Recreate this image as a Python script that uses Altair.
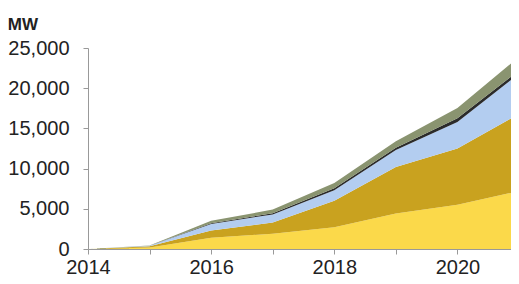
import altair as alt
import pandas as pd

years = [2014, 2015, 2016, 2017, 2018, 2019, 2020, 2021]
tick_years = [2014, 2015, 2016, 2017, 2018, 2019, 2020]
series = ["Layer A", "Layer B", "Layer C", "Layer D", "Layer E"]
colors = ["#FBD94A", "#C9A21F", "#B3CDF0", "#2B2B2B", "#8A9470"]
layer_a = [0, 200, 1400, 1900, 2700, 4400, 5500, 7200]
layer_b = [0, 150, 900, 1400, 3300, 5800, 7000, 9600]
layer_c = [0, 50, 800, 1000, 1300, 2100, 3300, 5000]
layer_d = [0, 10, 100, 150, 250, 300, 450, 400]
layer_e = [0, 40, 300, 450, 650, 800, 1300, 1700]

rows = []
for k, (name, vals) in enumerate(zip(series, [layer_a, layer_b, layer_c, layer_d, layer_e])):
    for y, v in zip(years, vals):
        rows.append({"year": y, "series": name, "mw": v, "k": k})
df = pd.DataFrame(rows)

chart = alt.Chart(df).mark_area(interpolate="linear", clip=True).encode(
    x=alt.X("year:Q",
            scale=alt.Scale(domain=[2014, 2020.87], nice=False, zero=False),
            axis=alt.Axis(values=tick_years, format="d", title=None,
                          labelExpr="datum.value % 2 == 0 ? datum.label : ''",
                          labelFlush=False, labelOverlap=False,
                          grid=False, tickSize=5, labelPadding=3,
                          labelFontSize=20, labelColor="#222222",
                          domainColor="#999999", tickColor="#999999",
                          labelFont="Liberation Sans")),
    y=alt.Y("mw:Q", stack="zero",
            scale=alt.Scale(domain=[0, 25000], nice=False),
            axis=alt.Axis(values=[0, 5000, 10000, 15000, 20000, 25000], format=",.0f",
                          title=None, grid=False, tickSize=5, labelPadding=14,
                          labelFontSize=20, labelColor="#222222",
                          domainColor="#999999", tickColor="#999999",
                          labelFont="Liberation Sans")),
    color=alt.Color("series:N", scale=alt.Scale(domain=series, range=colors), legend=None),
    order=alt.Order("k:Q", sort="ascending"),
).properties(
    width=423,
    height=201,
    title=alt.TitleParams("MW", anchor="start", frame="bounds", fontSize=17,
                          fontWeight="bold", font="Liberation Sans", color="#222222",
                          offset=4),
    autosize=alt.AutoSizeParams(type="none"),
    padding={"left": 80, "top": 40, "right": 0, "bottom": 27},
).configure_view(stroke=None)

chart.save("out.html", embed_options={"renderer": "svg", "actions": False})
